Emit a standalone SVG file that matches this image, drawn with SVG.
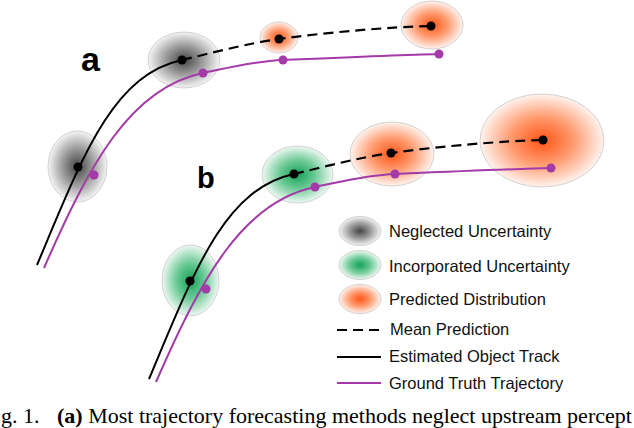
<svg xmlns="http://www.w3.org/2000/svg" width="634" height="428" viewBox="0 0 634 428">
<style>
.track{fill:none;stroke:#000;stroke-width:2}
.dash{fill:none;stroke:#000;stroke-width:2.2;stroke-dasharray:10 6}
.gt{fill:none;stroke:#a33aa7;stroke-width:2}
.dk{fill:#000}
.pp{fill:#a33aa7}
.ell{stroke:#c8c8c8;stroke-width:0.8}
.lg{font-family:"Liberation Sans",Arial,sans-serif;font-size:16.5px;fill:#111}
.lbl{font-family:"Liberation Sans",Arial,sans-serif;font-weight:bold;fill:#000}
.cap{font-family:"Liberation Serif","Times New Roman",serif;font-size:22px;fill:#000}
</style>
<defs>
<radialGradient id="gGray"><stop offset="0" stop-color="#444"/><stop offset="0.5" stop-color="#999"/><stop offset="1" stop-color="#f4f4f4"/></radialGradient>
<radialGradient id="gGreen"><stop offset="0" stop-color="#15a157"/><stop offset="0.5" stop-color="#6cca96"/><stop offset="1" stop-color="#eef8f2"/></radialGradient>
<radialGradient id="gOrange"><stop offset="0" stop-color="#ff5516"/><stop offset="0.5" stop-color="#ff9a6e"/><stop offset="1" stop-color="#fff3ee"/></radialGradient>
</defs>

<g id="uncertainty-a">
<ellipse class="ell" cx="77.5" cy="166.5" rx="29.5" ry="35.5" fill="url(#gGray)"/>
<ellipse class="ell" cx="184" cy="60" rx="36" ry="28" fill="url(#gGray)"/>
<ellipse class="ell" cx="279" cy="37.5" rx="19" ry="15.5" fill="url(#gOrange)"/>
<ellipse class="ell" cx="432" cy="25" rx="31" ry="24" fill="url(#gOrange)"/>
</g>
<g id="uncertainty-b">
<ellipse class="ell" cx="190.5" cy="280.5" rx="28.5" ry="35.5" fill="url(#gGreen)"/>
<ellipse class="ell" cx="297.5" cy="174.5" rx="35.5" ry="28.5" fill="url(#gGreen)"/>
<ellipse class="ell" cx="392" cy="154" rx="42" ry="32" fill="url(#gOrange)"/>
<ellipse class="ell" cx="542" cy="140.5" rx="62" ry="46.5" fill="url(#gOrange)"/>
</g>

<g id="connectors">
<g id="track-a">
<path class="gt" d="M44,268 C89,165 130,88 203,73 C230,67.5 255,61 283,60 C330,58 400,55 439,54"/>
<path class="track" d="M37,265 C82,158 112,75 182,60"/>
<path class="dash" d="M182,60 C215,52 250,43 279,39 C330,32 390,27 431,26"/>
</g>
<g id="track-b" transform="translate(112,114)">
<path class="gt" d="M44,268 C89,165 130,88 203,73 C230,67.5 255,61 283,60 C330,58 400,55 439,54"/>
<path class="track" d="M37,265 C82,158 112,75 182,60"/>
<path class="dash" d="M182,60 C215,52 250,43 279,39 C330,32 390,27 431,26"/>
</g>
</g>

<g id="points-a">
<circle class="pp" cx="94" cy="175" r="4.5"/><circle class="pp" cx="203" cy="73" r="4.5"/><circle class="pp" cx="283" cy="60" r="4.5"/><circle class="pp" cx="439" cy="54" r="4.5"/>
<circle class="dk" cx="78" cy="167" r="4.5"/><circle class="dk" cx="182" cy="60" r="4.5"/><circle class="dk" cx="279" cy="39" r="4.5"/><circle class="dk" cx="431" cy="26" r="4.5"/>
</g>
<g id="points-b" transform="translate(112,114)">
<circle class="pp" cx="94" cy="175" r="4.5"/><circle class="pp" cx="203" cy="73" r="4.5"/><circle class="pp" cx="283" cy="60" r="4.5"/><circle class="pp" cx="439" cy="54" r="4.5"/>
<circle class="dk" cx="78" cy="167" r="4.5"/><circle class="dk" cx="182" cy="60" r="4.5"/><circle class="dk" cx="279" cy="39" r="4.5"/><circle class="dk" cx="431" cy="26" r="4.5"/>
</g>

<g id="label-a"><text class="lbl" x="81" y="70.5" font-size="34">a</text></g>
<g id="label-b"><text class="lbl" x="197" y="187.5" font-size="29">b</text></g>

<g id="legend">
<ellipse class="ell" cx="360" cy="231" rx="21" ry="14.5" fill="url(#gGray)"/>
<ellipse class="ell" cx="360" cy="265" rx="21" ry="14.5" fill="url(#gGreen)"/>
<ellipse class="ell" cx="360" cy="299" rx="21" ry="14.5" fill="url(#gOrange)"/>
<line class="dash" x1="337" y1="330" x2="379" y2="330"/>
<line class="track" x1="337" y1="357" x2="381" y2="357"/>
<line class="gt" x1="337" y1="383" x2="381" y2="383"/>
<text class="lg" x="389" y="236.5">Neglected Uncertainty</text>
<text class="lg" x="389" y="271.5">Incorporated Uncertainty</text>
<text class="lg" x="389" y="305">Predicted Distribution</text>
<text class="lg" x="390" y="335">Mean Prediction</text>
<text class="lg" x="389" y="362">Estimated Object Track</text>
<text class="lg" x="389" y="389">Ground Truth Trajectory</text>
</g>

<g id="caption">
<text class="cap" y="423"><tspan x="1">g. 1.</tspan><tspan x="57" font-weight="bold">(a)</tspan><tspan> Most trajectory forecasting methods neglect upstream percept</tspan></text>
</g>
</svg>
